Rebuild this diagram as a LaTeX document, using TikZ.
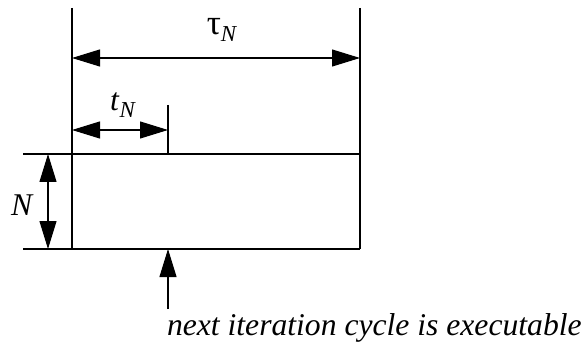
\documentclass[tikz,border=0pt]{standalone}
\usepackage{fontspec}
\setmainfont{Liberation Serif}
\usetikzlibrary{arrows.meta, positioning}
\newcommand{\lowsub}[1]{\raisebox{-0.45ex}{\fontsize{13}{13}\selectfont\textit{#1}}}

\begin{document}
\begin{tikzpicture}[
    line width=0.6pt,
    dimarrow/.style={{Triangle[length=0.56cm,width=0.34cm]}-{Triangle[length=0.56cm,width=0.34cm]}},
    pointer/.style={-{Triangle[length=0.56cm,width=0.34cm]}},
    lbl/.style={font=\fontsize{18}{21}\selectfont, inner sep=0pt}]
  \useasboundingbox (0,0) rectangle (11.76,6.9);

  % frame lines
  \coordinate (lt) at (1.44,6.74);
  \coordinate (lb) at (1.44,1.92);
  \coordinate (rt) at (7.2,6.74);
  \coordinate (rm) at (7.2,3.82);
  \coordinate (hl) at (0.46,3.82);
  \coordinate (bl) at (0.46,1.92);
  \coordinate (br) at (7.2,1.92);
  \draw (lt) -- (lb);
  \draw (rt) -- (br);
  \draw (hl) -- (rm);
  \draw (bl) -- (br);

  % cycle length
  \coordinate (tauL) at (1.44,5.74);
  \coordinate (tauR) at (7.2,5.74);
  \draw[dimarrow] (tauL) -- (tauR);
  \node[lbl] (tau) at (4.44,6.3) {\fontsize{20}{22}\selectfont τ\lowsub{N}};

  % execution time
  \coordinate (tL) at (1.44,4.3);
  \coordinate (tR) at (3.36,4.3);
  \coordinate (tick) at (3.36,4.8);
  \coordinate (tickb) at (3.36,3.82);
  \draw[dimarrow] (tL) -- (tR);
  \draw (tick) -- (tickb);
  \node[lbl] (tn) at (2.46,4.8) {\textit{t}\lowsub{N}};

  % height N
  \coordinate (nT) at (0.96,3.82);
  \coordinate (nB) at (0.96,1.92);
  \draw[dimarrow] (nT) -- (nB);
  \node[lbl] (n) at (0.45,2.8) {\textit{N}};

  % next cycle
  \node[lbl, anchor=base west] (cap) at (3.33,0.2) {\textit{next iteration cycle is executable}};
  \coordinate (upB) at (3.36,0.72);
  \coordinate (upT) at (3.36,1.92);
  \draw[pointer] (upB) -- (upT);
\end{tikzpicture}
\end{document}
